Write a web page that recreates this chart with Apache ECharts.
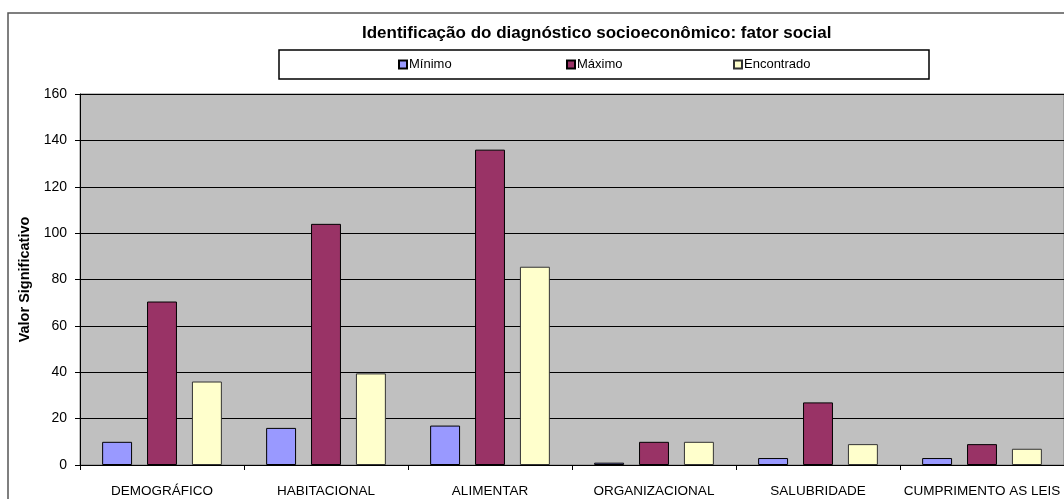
<!DOCTYPE html>
<html>
<head>
<meta charset="utf-8">
<script src="https://cdn.jsdelivr.net/npm/echarts@6/dist/echarts.min.js"></script>
<style>
html,body{margin:0;padding:0;background:#fff;}
#c{width:1064px;height:499px;}
</style>
</head>
<body>
<div id="c"></div>
<script>
var categories = ['DEMOGRÁFICO', 'HABITACIONAL', 'ALIMENTAR', 'ORGANIZACIONAL', 'SALUBRIDADE', 'CUMPRIMENTO AS LEIS'];
var minimo = [10, 16, 17, 1, 3, 3];
var maximo = [70.5, 104, 136, 10, 27, 9];
var encontrado = [36, 39.5, 85.5, 10, 9, 7];
var yTicks = [0, 20, 40, 60, 80, 100, 120, 140, 160];

var font = '"Liberation Sans", Arial, sans-serif';
var chart = echarts.init(document.getElementById('c'), null, {renderer: 'canvas'});
var legendBase = {
  top: 58, itemWidth: 8, itemHeight: 8, itemGap: 0, icon: 'rect',
  textStyle: {fontFamily: font, fontSize: 13, color: '#000', padding: [0, 0, 0, -3]},
  padding: 0
};
chart.setOption({
  animation: false,
  backgroundColor: '#fff',
  graphic: [
    {type: 'rect', shape: {x: 8, y: 13, width: 1200, height: 600}, style: {fill: 'none', stroke: '#555', lineWidth: 1.5}, silent: true, z: -10},
    {type: 'rect', shape: {x: 279, y: 50, width: 650, height: 29}, style: {fill: '#fff', stroke: '#000', lineWidth: 1.5}, silent: true, z: -5}
  ],
  title: {
    text: 'Identificação do diagnóstico socioeconômico: fator social',
    left: 357, top: 20,
    textStyle: {fontFamily: font, fontSize: 17, fontWeight: 'bold', color: '#000'}
  },
  legend: [
    Object.assign({}, legendBase, {left: 398, data: ['Mínimo']}),
    Object.assign({}, legendBase, {left: 566, data: ['Máximo']}),
    Object.assign({}, legendBase, {left: 733, data: ['Encontrado']})
  ],
  grid: {left: 80, right: 0, top: 94, bottom: 34, show: true, backgroundColor: '#C0C0C0', borderColor: '#808080', borderWidth: 1, containLabel: false},
  xAxis: {
    type: 'category', data: categories,
    axisLine: {lineStyle: {color: '#000', width: 1}},
    axisTick: {show: true, length: 5, lineStyle: {color: '#000'}},
    axisLabel: {interval: 0, fontFamily: font, fontSize: 13.5, color: '#000', margin: 19}
  },
  yAxis: {
    type: 'value', min: 0, max: 160, interval: 20,
    name: 'Valor Significativo', nameLocation: 'middle', nameGap: 45,
    nameTextStyle: {fontFamily: font, fontSize: 14.5, fontWeight: 'bold', color: '#000'},
    axisLine: {show: true, lineStyle: {color: '#000', width: 1}},
    axisTick: {show: true, length: 5, lineStyle: {color: '#000'}},
    axisLabel: {fontFamily: font, fontSize: 14, color: '#000', margin: 13,
      formatter: function (v) { return yTicks.indexOf(v) >= 0 ? String(v) : ''; }},
    splitLine: {show: true, lineStyle: {color: '#000', width: 1}}
  },
  series: [
    {name: 'Mínimo', type: 'bar', data: minimo, barGap: '50%', barCategoryGap: '27%',
      itemStyle: {color: '#9999FF', borderColor: '#000', borderWidth: 1}},
    {name: 'Máximo', type: 'bar', data: maximo,
      itemStyle: {color: '#993366', borderColor: '#000', borderWidth: 1}},
    {name: 'Encontrado', type: 'bar', data: encontrado,
      itemStyle: {color: '#FFFFCC', borderColor: '#333', borderWidth: 1}}
  ]
});
</script>
</body>
</html>
